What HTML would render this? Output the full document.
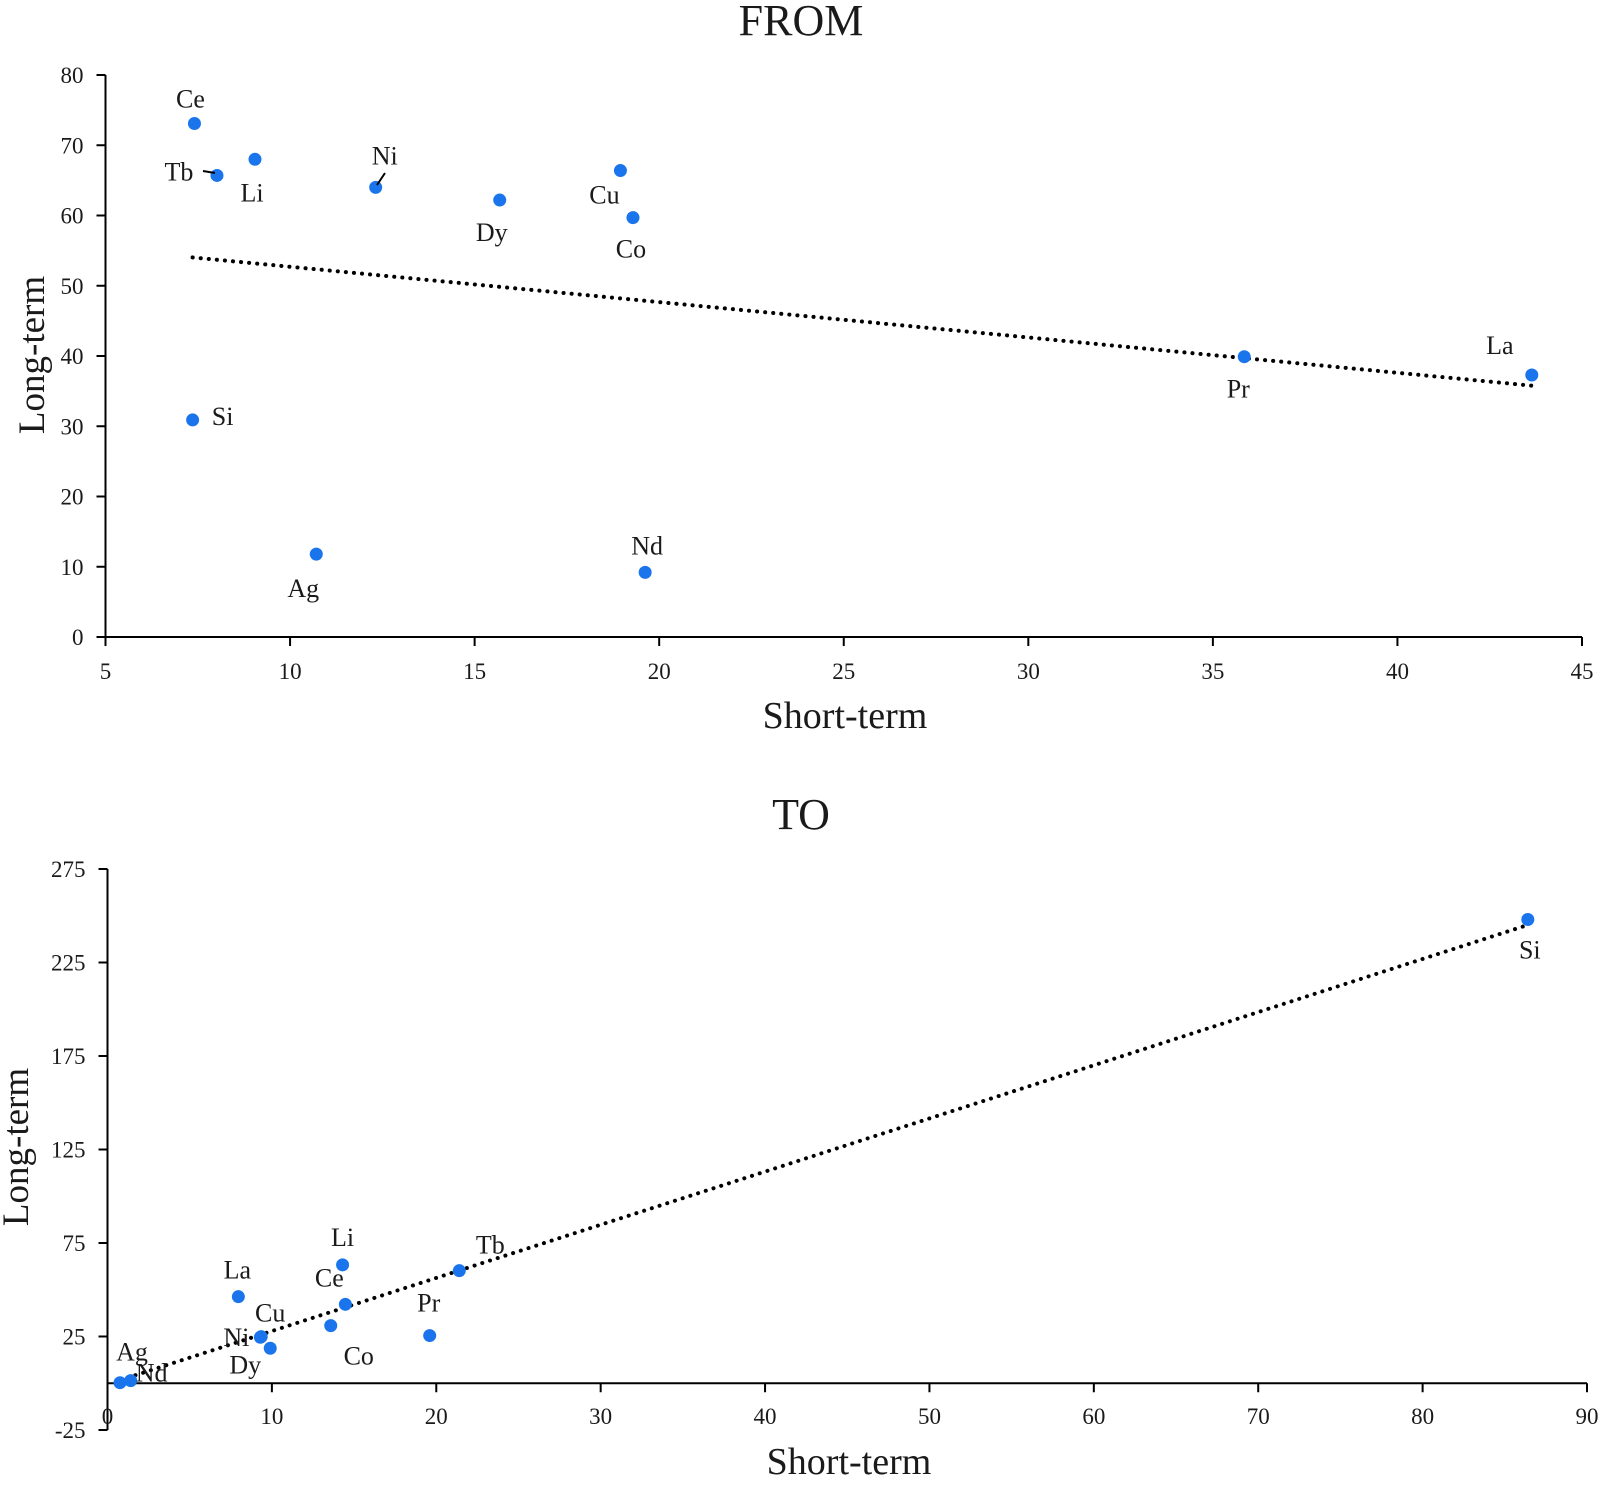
<!DOCTYPE html>
<html><head><meta charset="utf-8"><style>
html,body{margin:0;padding:0;background:#fff;}
svg text{font-family:"Liberation Serif",serif;fill:#1a1a1a;}
</style></head><body>
<svg id="chart" width="1606" height="1480" viewBox="0 0 1606 1480" xmlns="http://www.w3.org/2000/svg"></svg>
<script>
// FROM chart data
const fromLabels = ["Ce","Tb","Li","Ni","Dy","Cu","Co","Pr","La","Si","Ag","Nd"];
const fromShort = [7.41,8.02,9.05,12.32,15.68,18.95,19.29,35.85,43.64,7.36,10.71,19.62];
const fromLong = [73.1,65.7,68.0,64.0,62.2,66.4,59.7,39.9,37.3,30.9,11.8,9.2];
const fromXTicks = [5,10,15,20,25,30,35,40,45];
const fromYTicks = [0,10,20,30,40,50,60,70,80];
// TO chart data
const toLabels = ["Ag","Nd","La","Cu","Ni","Dy","Li","Ce","Co","Pr","Tb","Si"];
const toShort = [0.76,1.41,7.96,9.35,9.3,9.9,14.3,14.47,13.58,19.6,21.4,86.4];
const toLong = [0.3,1.4,46.3,24.9,24.6,18.7,63.3,42.2,30.8,25.5,60.2,248];
const toXTicks = [0,10,20,30,40,50,60,70,80,90];
const toYTicks = [-25,25,75,125,175,225,275];

// label offsets (styling, px)
const fromOff = {Ce:[-4,-25],Tb:[-38,-4],Li:[-3,33],Ni:[9,-32],Dy:[-8,32],Cu:[-16,24],Co:[-2,31],Pr:[-6,32],La:[-32,-30],Si:[30,-4],Ag:[-13,34],Nd:[2,-27]};
const toOff = {Ag:[12,-31],Nd:[21,-8],La:[-1,-27],Cu:[9,-24],Ni:[-24,0],Dy:[-25,16],Li:[0,-28],Ce:[-16,-27],Co:[28,30],Pr:[-1,-33],Tb:[31,-26],Si:[2,30]};

const svg=document.getElementById('chart');
const NS='http://www.w3.org/2000/svg';
function mk(tag,attrs,parent){const e=document.createElementNS(NS,tag);for(const k in attrs)e.setAttribute(k,attrs[k]);(parent||svg).appendChild(e);return e;}

function drawChart(cfg){
  const g=mk('g',{});
  
  
  const sx=v=>cfg.x0+(v-cfg.xmin)/(cfg.xmax-cfg.xmin)*(cfg.x1-cfg.x0);
  const sy=v=>cfg.y0-(v-cfg.ymin)/(cfg.ymax-cfg.ymin)*(cfg.y0-cfg.y1);
  const t=mk('text',{x:801,y:cfg.titleY,'text-anchor':'middle','font-size':44},g);
  t.textContent=cfg.title;
  
  
  const ya=mk('line',{x1:cfg.x0,y1:cfg.y0,x2:cfg.x0,y2:cfg.y1,stroke:'#000','stroke-width':2},g);
  
  
  cfg.yTicks.forEach(v=>{
    const y=sy(v);
    mk('line',{x1:cfg.x0-9,y1:y,x2:cfg.x0,y2:y,stroke:'#000','stroke-width':2},g);
    const tl=mk('text',{x:cfg.x0-22,y:y+8,'text-anchor':'end','font-size':23},g);
    tl.textContent=v;
    
    
  });
  const axY=sy(cfg.xAxisAt);
  const xa=mk('line',{x1:cfg.x0,y1:axY,x2:cfg.x1,y2:axY,stroke:'#000','stroke-width':2},g);
  
  
  cfg.xTicks.forEach(v=>{
    const x=sx(v);
    mk('line',{x1:x,y1:axY,x2:x,y2:axY+9,stroke:'#000','stroke-width':2},g);
    const tl=mk('text',{x:x,y:cfg.xLabY,'text-anchor':'middle','font-size':23},g);
    tl.textContent=v;
    
    
  });
  const xt=mk('text',{x:cfg.xTitleX,y:cfg.xTitleY,'text-anchor':'middle','font-size':38},g);
  xt.textContent='Short-term';
  
  
  const yt=mk('text',{x:0,y:0,'text-anchor':'middle','font-size':37,transform:`translate(${cfg.yTitleX},${cfg.yTitleY}) rotate(-90)`},g);
  yt.textContent='Long-term';
  
  
  const xs=cfg.xs,ys=cfg.ys,n=xs.length;
  const mx=xs.reduce((a,b)=>a+b,0)/n,my=ys.reduce((a,b)=>a+b,0)/n;
  let num=0,den=0;for(let i=0;i<n;i++){num+=(xs[i]-mx)*(ys[i]-my);den+=(xs[i]-mx)**2;}
  const b=num/den,a=my-b*mx;
  const xlo=Math.min(...xs),xhi=Math.max(...xs);
  const tr=mk('line',{x1:sx(xlo),y1:sy(a+b*xlo),x2:sx(xhi),y2:sy(a+b*xhi),stroke:'#000','stroke-width':4,'stroke-dasharray':'0.1 8','stroke-linecap':'round'},g);
  
  
  for(let i=0;i<n;i++){
    const px=sx(xs[i]),py=sy(ys[i]);
    const c=mk('circle',{cx:px,cy:py,r:6.5,fill:'#1a75ec'},g);
    
    
    const o=cfg.off[cfg.labels[i]]||[0,-25];
    const lt=mk('text',{x:px+o[0],y:py+o[1]+9,'text-anchor':'middle','font-size':26},g);
    lt.textContent=cfg.labels[i];
    
    
  }
}

drawChart({name:'from-chart',title:'FROM',titleY:35,x0:105.5,x1:1582,xmin:5,xmax:45,y0:637,y1:75,ymin:0,ymax:80,
  xAxisAt:0,xTicks:fromXTicks,yTicks:fromYTicks,xLabY:679,xTitleX:845,xTitleY:728,yTitleX:44,yTitleY:355,
  xs:fromShort,ys:fromLong,labels:fromLabels,off:fromOff});
drawChart({name:'to-chart',title:'TO',titleY:829,x0:107.5,x1:1587,xmin:0,xmax:90,y0:1430,y1:869,ymin:-25,ymax:275,
  xAxisAt:0,xTicks:toXTicks,yTicks:toYTicks,xLabY:1424,xTitleX:849,xTitleY:1474,yTitleX:28,yTitleY:1147,
  xs:toShort,ys:toLong,labels:toLabels,off:toOff});
mk('line',{x1:203,y1:171,x2:215,y2:173,stroke:'#000','stroke-width':2});
mk('line',{x1:385,y1:173,x2:377,y2:185,stroke:'#000','stroke-width':2});
</script>
</body></html>
